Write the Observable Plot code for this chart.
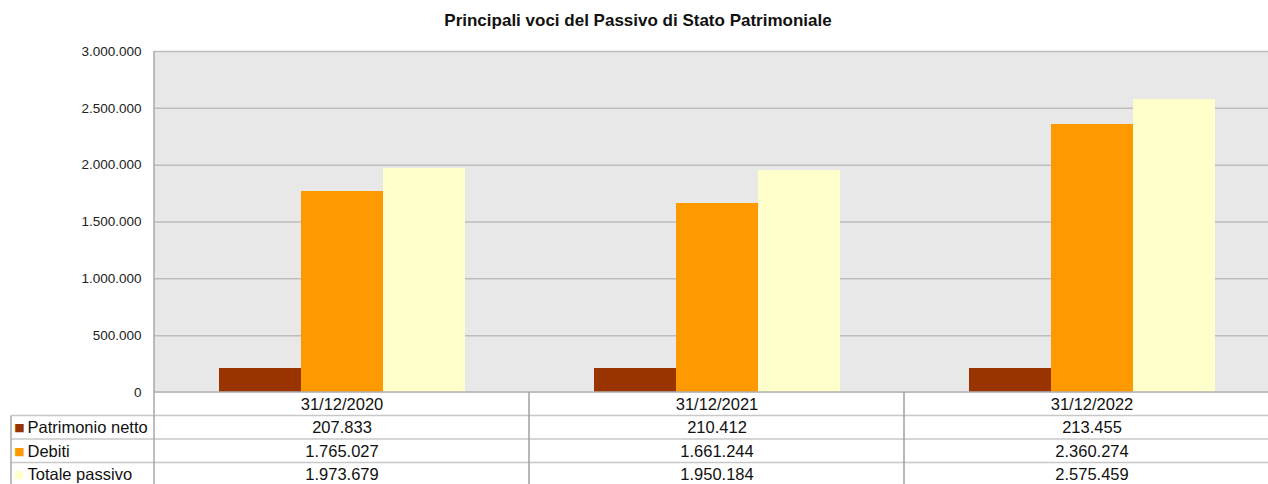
<!DOCTYPE html>
<html><head><meta charset="utf-8">
<script src="https://cdn.jsdelivr.net/npm/d3@7"></script>
<script src="https://cdn.jsdelivr.net/npm/@observablehq/plot@0.6"></script>
<style>html,body{margin:0;padding:0;background:#fff;overflow:hidden;width:1268px;height:484px}</style>
</head><body><div id="chart"></div>
<script>
const title = "Principali voci del Passivo di Stato Patrimoniale";
const dates = ["31/12/2020", "31/12/2021", "31/12/2022"];
const series = ["Patrimonio netto", "Debiti", "Totale passivo"];
const patrimonioNetto = [207833, 210412, 213455];
const debiti = [1765027, 1661244, 2360274];
const totalePassivo = [1973679, 1950184, 2575459];
const yTicks = [0, 500000, 1000000, 1500000, 2000000, 2500000, 3000000];
const colors = ["#993300", "#ff9900", "#ffffcc"];

const it = d3.formatLocale({decimal: ",", thousands: ".", grouping: [3], currency: ["€", ""]});
const fmt = it.format(",d");
const valuesBySeries = [patrimonioNetto, debiti, totalePassivo];
const data = dates.flatMap((d, i) => series.map((s, j) => ({date: d, series: s, value: valuesBySeries[j][i], row: j})));

const W = 1279, H = 484, mT = 51, mB = 92, mL = 154;
const rowDy = [35, 59, 82];
const font = "Liberation Sans, Arial, Helvetica, sans-serif";
const tableSize = 16.5;

const marks = [
  Plot.frame({fill: "#e8e8e8", stroke: "none", insetLeft: -1, insetRight: -1, shapeRendering: "crispEdges"}),
  Plot.ruleY(yTicks.slice(1), {stroke: "#bdbdbd", strokeWidth: 1.5}),
  Plot.barY(data, {fx: "date", x: "series", y: "value", fill: "series", shapeRendering: "crispEdges"}),
  Plot.text(dates, {fx: d => d, text: d => d, frameAnchor: "bottom", dy: 12, fontSize: tableSize, lineAnchor: "middle", fill: "#111"})
];
series.forEach((s, j) => {
  marks.push(Plot.text(data.filter(d => d.row === j), {fx: "date", text: d => fmt(d.value), frameAnchor: "bottom", dy: rowDy[j], lineAnchor: "middle", fontSize: tableSize, fill: "#111"}));
  marks.push(Plot.text([s], {fx: () => dates[0], text: d => d, frameAnchor: "bottom-left", dx: -127, dy: rowDy[j], lineAnchor: "middle", textAnchor: "start", fontSize: tableSize, fill: "#111"}));
  marks.push(Plot.text([s], {fx: () => dates[0], text: () => "■", frameAnchor: "bottom-left", dx: -135, dy: rowDy[j], lineAnchor: "middle", textAnchor: "middle", fontSize: 11, fill: colors[j], fontFamily: "DejaVu Sans"}));
});

const chart = Plot.plot({
  width: W, height: H,
  marginTop: mT, marginBottom: mB, marginLeft: mL, marginRight: 0,
  style: {fontFamily: font, fontSize: "13.5px", color: "#222", background: "white", maxWidth: "none", overflow: "hidden"},
  fx: {domain: dates, padding: 0, axis: null, label: null},
  x: {domain: series, paddingInner: 0, paddingOuter: 0.76, axis: null},
  y: {domain: [0, 3000000], ticks: yTicks, tickFormat: fmt, tickSize: 0, tickPadding: 13, label: null},
  color: {domain: series, range: colors},
  marks
});
document.getElementById("chart").appendChild(chart);

const svg = d3.select(chart);
const g = svg.append("g");
const y0 = H - mB;
const rowLines = [y0 + 23.5, y0 + 47, y0 + 70.5];
g.append("line").attr("x1", mL).attr("x2", W).attr("y1", y0).attr("y2", y0).attr("stroke", "#b0b0b0").attr("stroke-width", 1.5);
rowLines.forEach(yy => g.append("line").attr("x1", 11).attr("x2", W).attr("y1", yy).attr("y2", yy).attr("stroke", "#c8c8c8").attr("stroke-width", 1.5));
g.append("line").attr("x1", mL).attr("x2", mL).attr("y1", mT).attr("y2", H).attr("stroke", "#a8a8a8").attr("stroke-width", 1.5);
g.append("line").attr("x1", 11).attr("x2", 11).attr("y1", rowLines[0]).attr("y2", H).attr("stroke", "#a8a8a8").attr("stroke-width", 1.5);
const step = (W - mL) / dates.length;
[1, 2].forEach(k => g.append("line").attr("x1", mL + k * step).attr("x2", mL + k * step).attr("y1", y0).attr("y2", H).attr("stroke", "#a0a0a0").attr("stroke-width", 1.5));
svg.append("text").attr("x", 638).attr("y", 20).attr("dy", "0.35em").attr("text-anchor", "middle")
  .attr("font-weight", "bold").attr("font-size", 17).attr("font-family", font).attr("fill", "#111").text(title);
</script>
</body></html>
